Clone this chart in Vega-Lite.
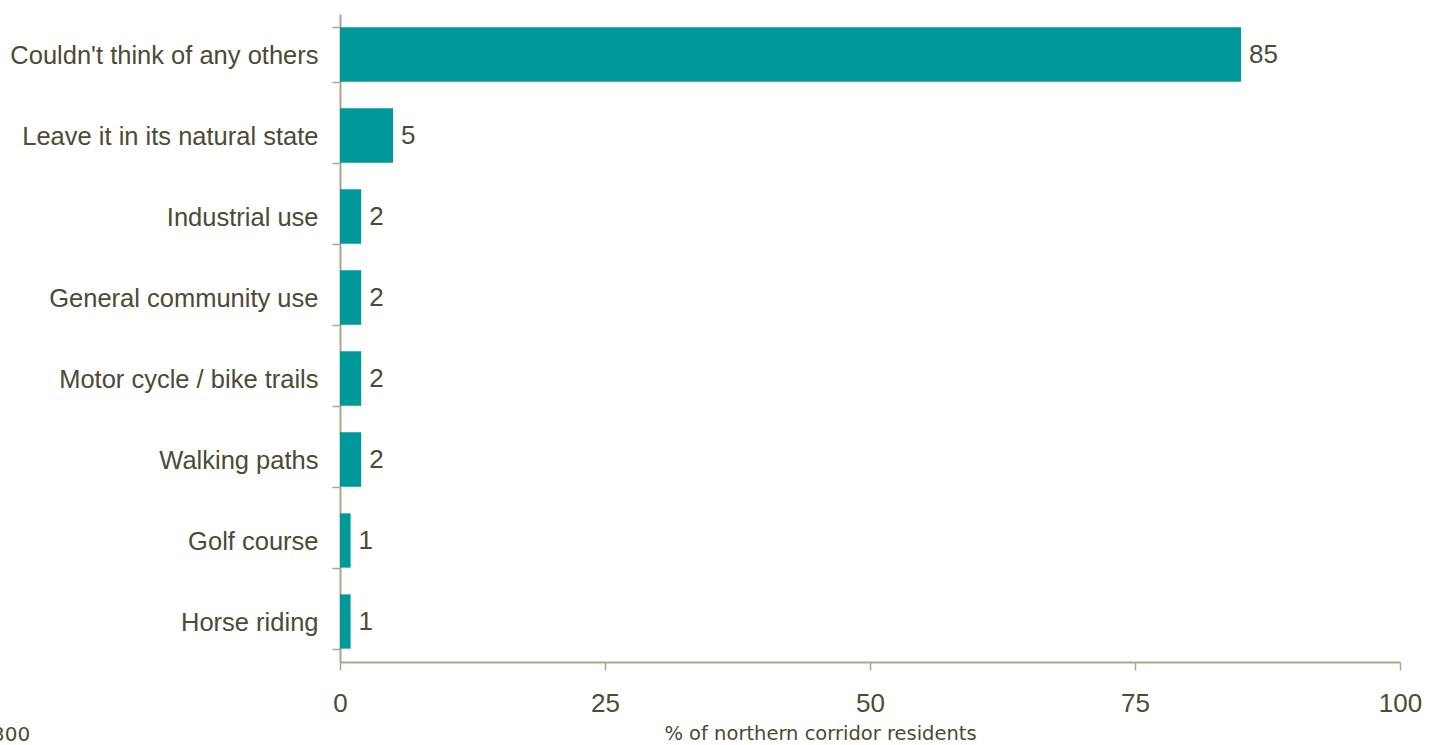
{
  "$schema": "https://vega.github.io/schema/vega-lite/v6.json",
  "width": 1060,
  "height": 648,
  "autosize": {"type": "none"},
  "padding": {"left": 340, "top": 14, "right": 41, "bottom": 83},
  "background": "white",
  "config": {"view": {"stroke": null}},
  "title": {
    "text": "300",
    "orient": "bottom",
    "anchor": "start",
    "frame": "group",
    "dx": -348,
    "offset": -18,
    "font": "DejaVu Sans",
    "fontSize": 20,
    "fontWeight": "normal",
    "color": "#4d4a35"
  },
  "data": {
    "values": [
      {"option": "Couldn't think of any others", "pct": 85},
      {"option": "Leave it in its natural state", "pct": 5},
      {"option": "Industrial use", "pct": 2},
      {"option": "General community use", "pct": 2},
      {"option": "Motor cycle / bike trails", "pct": 2},
      {"option": "Walking paths", "pct": 2},
      {"option": "Golf course", "pct": 1},
      {"option": "Horse riding", "pct": 1}
    ]
  },
  "encoding": {
    "y": {
      "field": "option",
      "type": "nominal",
      "sort": null,
      "scale": {"paddingInner": 0.33, "paddingOuter": 0.165},
      "axis": {
        "title": null,
        "domainColor": "#a9a98a",
        "domainWidth": 2,
        "tickColor": "#a9a98a",
        "tickWidth": 1.5,
        "tickSize": 8,
        "tickBand": "extent",
        "labelFont": "Liberation Sans",
        "labelFontSize": 25.5,
        "labelColor": "#4d4a35",
        "labelPadding": 14,
        "labelLimit": 0,
        "labelOffset": 1
      }
    },
    "x": {
      "field": "pct",
      "type": "quantitative",
      "scale": {"domain": [0, 100], "nice": false},
      "axis": {
        "values": [0, 25, 50, 75, 100],
        "grid": false,
        "labelFlush": false,
        "title": "% of northern corridor residents",
        "titleFont": "DejaVu Sans",
        "titleFontSize": 19.5,
        "titleFontWeight": "normal",
        "titleColor": "#4d4a35",
        "titlePadding": 8,
        "titleX": 480,
        "domainColor": "#a9a98a",
        "domainWidth": 2,
        "tickColor": "#a9a98a",
        "tickWidth": 1.5,
        "tickSize": 8,
        "labelFont": "Liberation Sans",
        "labelFontSize": 26,
        "labelColor": "#4d4a35",
        "labelPadding": 20
      }
    }
  },
  "layer": [
    {"mark": {"type": "bar", "color": "#009999"}},
    {
      "mark": {"type": "text", "align": "left", "dx": 8, "font": "Liberation Sans", "fontSize": 26, "color": "#4d4a35"},
      "encoding": {"text": {"field": "pct", "type": "quantitative"}}
    }
  ]
}
